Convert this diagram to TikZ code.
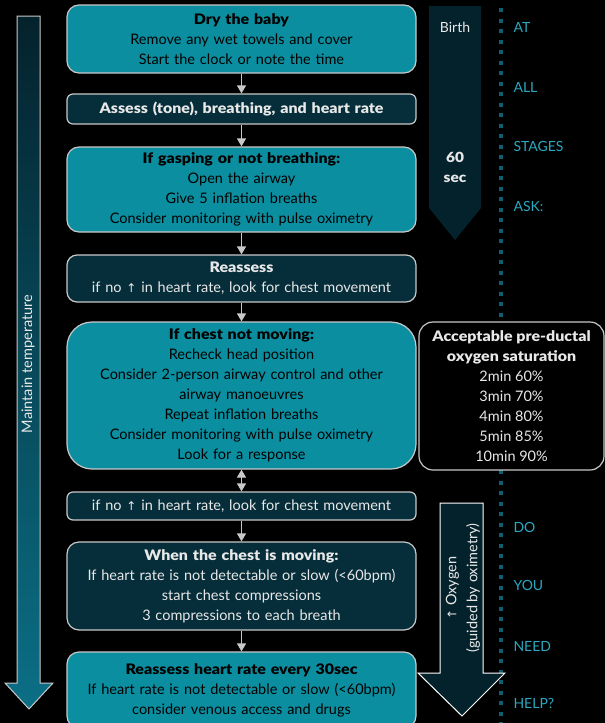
\documentclass[tikz,border=0pt]{standalone}
\usepackage{fontspec}
\setmainfont{Lato}[BoldFont={Lato Black}, BoldFeatures={FakeStretch=1.1}]
\newfontfamily\symf{DejaVu Sans}
\usetikzlibrary{arrows.meta}
\definecolor{tealbox}{HTML}{0B8FA0}
\definecolor{darkbox}{HTML}{062E3A}
\definecolor{arrdark}{HTML}{04222C}
\definecolor{arrlow}{HTML}{0B6F86}
\definecolor{edge}{HTML}{C8C8C8}
\definecolor{dotc}{HTML}{0E5F73}
\definecolor{wordc}{HTML}{2AA8C0}
\definecolor{lt}{HTML}{E8E8E8}
\newcommand{\upar}{{\symf\fontsize{12}{12}\selectfont ↑}}
\begin{document}
\begin{tikzpicture}[x=1pt,y=-1pt,
  box/.style={draw=edge, line width=1.2pt, minimum width=349pt, text width=345pt,
    align=center, inner sep=0pt, font=\fontsize{14.5}{20}\selectfont},
  tbox/.style={box, fill=tealbox, text=black},
  dbox/.style={box, fill=darkbox, text=lt},
  link/.style={draw=edge, line width=1.2pt, -{Triangle[width=9pt,length=8pt]}},
  dlink/.style={draw=edge, line width=1.2pt, {Triangle[width=9pt,length=8pt]}-{Triangle[width=9pt,length=8pt]}},
  word/.style={anchor=west, text=wordc, font=\fontsize{14}{16}\selectfont},
  lbl/.style={text=lt, align=center, inner sep=0pt}
]
\fill[black] (0,0) rectangle (605,723);
\useasboundingbox (0,0) rectangle (605,723);

% left arrow
\shadedraw[top color=arrdark, bottom color=arrlow, draw=edge, line width=1pt]
  (17,16) -- (40,16) -- (40,683) -- (53,683) -- (29,709) -- (5,683) -- (17,683) -- cycle;
\node[lbl, rotate=90, font=\fontsize{14.5}{15}\selectfont] (mt) at (28,364) {Maintain temperature};

% 60 sec arrow
\fill[arrdark] (429,6) -- (481,6) -- (481,208) -- (455,240) -- (429,208) -- cycle;
\node[lbl, font=\fontsize{14}{16}\selectfont] (birth) at (455,27) {Birth};
\node[lbl, font=\bfseries\fontsize{14}{20}\selectfont] (sec) at (455,167) {60\\sec};

% dotted line
\draw[dotc, line width=4pt, dash pattern=on 4pt off 6.5pt] (501,8) -- (501,723);

% words
\node[word] (w1) at (510,27) {AT};
\node[word] (w2) at (510,87) {ALL};
\node[word] (w3) at (510,146) {STAGES};
\node[word] (w4) at (510,206) {ASK:};
\node[word] (w5) at (510,527) {DO};
\node[word] (w6) at (510,585) {YOU};
\node[word] (w7) at (510,646) {NEED};
\node[word] (w8) at (510,703) {HELP?};

% oxygen arrow
\filldraw[fill=arrdark, draw=white, line width=1pt]
  (440,503) -- (483,503) -- (483,673) -- (505,673) -- (462,716) -- (418,673) -- (440,673) -- cycle;
\node[lbl, rotate=90, font=\fontsize{14.5}{21}\selectfont] (oxy) at (463,588) {\upar\ Oxygen\\(guided by oximetry)};

% saturation box
\node[draw=edge, line width=1.2pt, fill=black, rounded corners=14pt, minimum width=185pt,
  minimum height=148pt, text=lt, align=center, inner sep=0pt,
  font=\fontsize{14.5}{20}\selectfont] (sat) at (511.5,396)
  {\textbf{Acceptable pre-ductal}\\\textbf{oxygen saturation}\\2min 60\%\\3min 70\%\\4min 80\%\\5min 85\%\\10min 90\%};

% flow boxes
\node[tbox, minimum height=68pt, rounded corners=12pt] (b1) at (241.5,39)
  {\textbf{Dry the baby}\\Remove any wet towels and cover\\Start the clock or note the time};
\node[dbox, minimum height=30pt, rounded corners=6pt, text=lt] (b2) at (241.5,109)
  {\textbf{Assess (tone), breathing, and heart rate}};
\node[tbox, minimum height=85pt, rounded corners=12pt] (b3) at (241.5,189.5)
  {\textbf{If gasping or not breathing:}\\Open the airway\\Give 5 inflation breaths\\Consider monitoring with pulse oximetry};
\node[dbox, minimum height=47pt, rounded corners=10pt] (b4) at (241.5,278.5)
  {\textbf{Reassess}\\if no \upar\ in heart rate, look for chest movement};
\node[tbox, minimum height=147pt, rounded corners=25pt] (b5) at (241.5,395.5)
  {\textbf{If chest not moving:}\\Recheck head position\\Consider 2-person airway control and other\\airway manoeuvres\\Repeat inflation breaths\\Consider monitoring with pulse oximetry\\Look for a response};
\node[dbox, minimum height=28pt, rounded corners=6pt] (b6) at (241.5,506)
  {if no \upar\ in heart rate, look for chest movement};
\node[dbox, minimum height=88pt, rounded corners=12pt] (b7) at (241.5,586)
  {\textbf{When the chest is moving:}\\If heart rate is not detectable or slow (<60bpm)\\start chest compressions\\3 compressions to each breath};
\node[tbox, minimum height=76pt, rounded corners=12pt] (b8) at (241.5,690)
  {\textbf{Reassess heart rate every 30sec}\\If heart rate is not detectable or slow (<60bpm)\\consider venous access and drugs};

% connectors
\draw[link] (b1) -- (b2);
\draw[link] (b2) -- (b3);
\draw[link] (b3) -- (b4);
\draw[link] (b4) -- (b5);
\draw[dlink] (b5) -- (b6);
\draw[link] (b6) -- (b7);
\draw[link] (b7) -- (b8);
\end{tikzpicture}
\end{document}
